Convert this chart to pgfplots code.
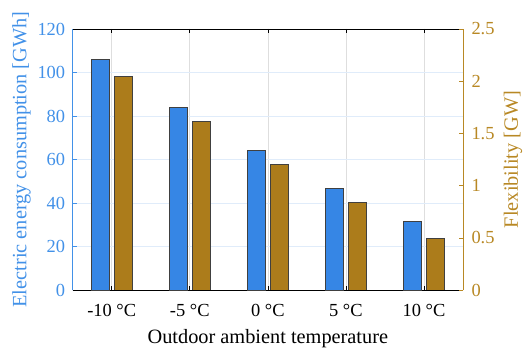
\documentclass[border=0pt]{standalone}
\usepackage{fontspec}
\setmainfont{Liberation Serif}
\usepackage{pgfplots}
\pgfplotsset{compat=1.18}
\definecolor{cblue}{RGB}{54,134,229}
\definecolor{cbrown}{RGB}{172,124,27}
\definecolor{tblue}{RGB}{66,145,232}
\definecolor{tbrown}{RGB}{184,136,36}
\definecolor{gblue}{RGB}{224,236,250}
\definecolor{ggray}{RGB}{222,222,222}
\begin{document}
\begin{tikzpicture}
\useasboundingbox (-72.7bp,-64bp) rectangle (454.3bp,290bp);
\begin{axis}[
  at={(0,0)}, anchor=south west,
  scale only axis, width=390.3bp, height=261bp,
  xmin=0.5, xmax=5.5, ymin=0, ymax=120,
  xtick={1,2,3,4,5},
  xticklabels={-10 °C,-5 °C,0 °C,5 °C,10 °C},
  ytick={0,20,40,60,80,100,120},
  separate axis lines,
  axis x line*=box,
  axis y line*=left,
  x axis line style={black, line width=0.6pt},
  y axis line style={tblue, line width=0.6pt},
  xtick style={black, line width=0.6pt},
  ytick style={tblue, line width=0.6pt},
  major tick length=4bp,
  tick align=inside,
  xmajorgrids, ymajorgrids,
  major x grid style={ggray, line width=0.6pt},
  major y grid style={gblue, line width=0.6pt},
  /pgf/number format/assume math mode=true,
  tick label style={font=\fontsize{18.5}{20}\selectfont},
  xticklabel style={black, yshift=-11bp},
  yticklabel style={tblue, xshift=-4bp},
  label style={font=\fontsize{20.4}{22}\selectfont},
  xlabel={Outdoor ambient temperature},
  ylabel={Electric energy consumption [GWh]},
  xlabel style={black, at={(axis description cs:0.5,-0.186)}, anchor=center},
  ylabel style={tblue, at={(axis description cs:-0.131,0.5)}, anchor=center},
]
\addplot[ybar, bar width=0.23, bar shift=-0.145, fill=cblue, draw=black!75, line width=0.6pt]
  coordinates {(1,106.2) (2,83.8) (3,64.2) (4,46.6) (5,31.4)};
\end{axis}
\begin{axis}[
  at={(0,0)}, anchor=south west,
  scale only axis, width=390.3bp, height=261bp,
  xmin=0.5, xmax=5.5, ymin=0, ymax=2.5,
  axis x line=none,
  axis y line*=right,
  ytick={0,0.5,1,1.5,2,2.5},
  y axis line style={tbrown, line width=0.6pt},
  ytick style={tbrown, line width=0.6pt},
  major tick length=4bp,
  tick align=inside,
  /pgf/number format/assume math mode=true,
  tick label style={font=\fontsize{18.5}{20}\selectfont},
  yticklabel style={tbrown, xshift=5bp},
  label style={font=\fontsize{20.4}{22}\selectfont},
  ylabel={Flexibility [GW]},
  ylabel style={tbrown, at={(axis description cs:1.128,0.5)}, anchor=center},
]
\addplot[ybar, bar width=0.23, bar shift=0.145, fill=cbrown, draw=black!75, line width=0.6pt]
  coordinates {(1,2.047) (2,1.616) (3,1.204) (4,0.836) (5,0.495)};
\end{axis}
\end{tikzpicture}
\end{document}
